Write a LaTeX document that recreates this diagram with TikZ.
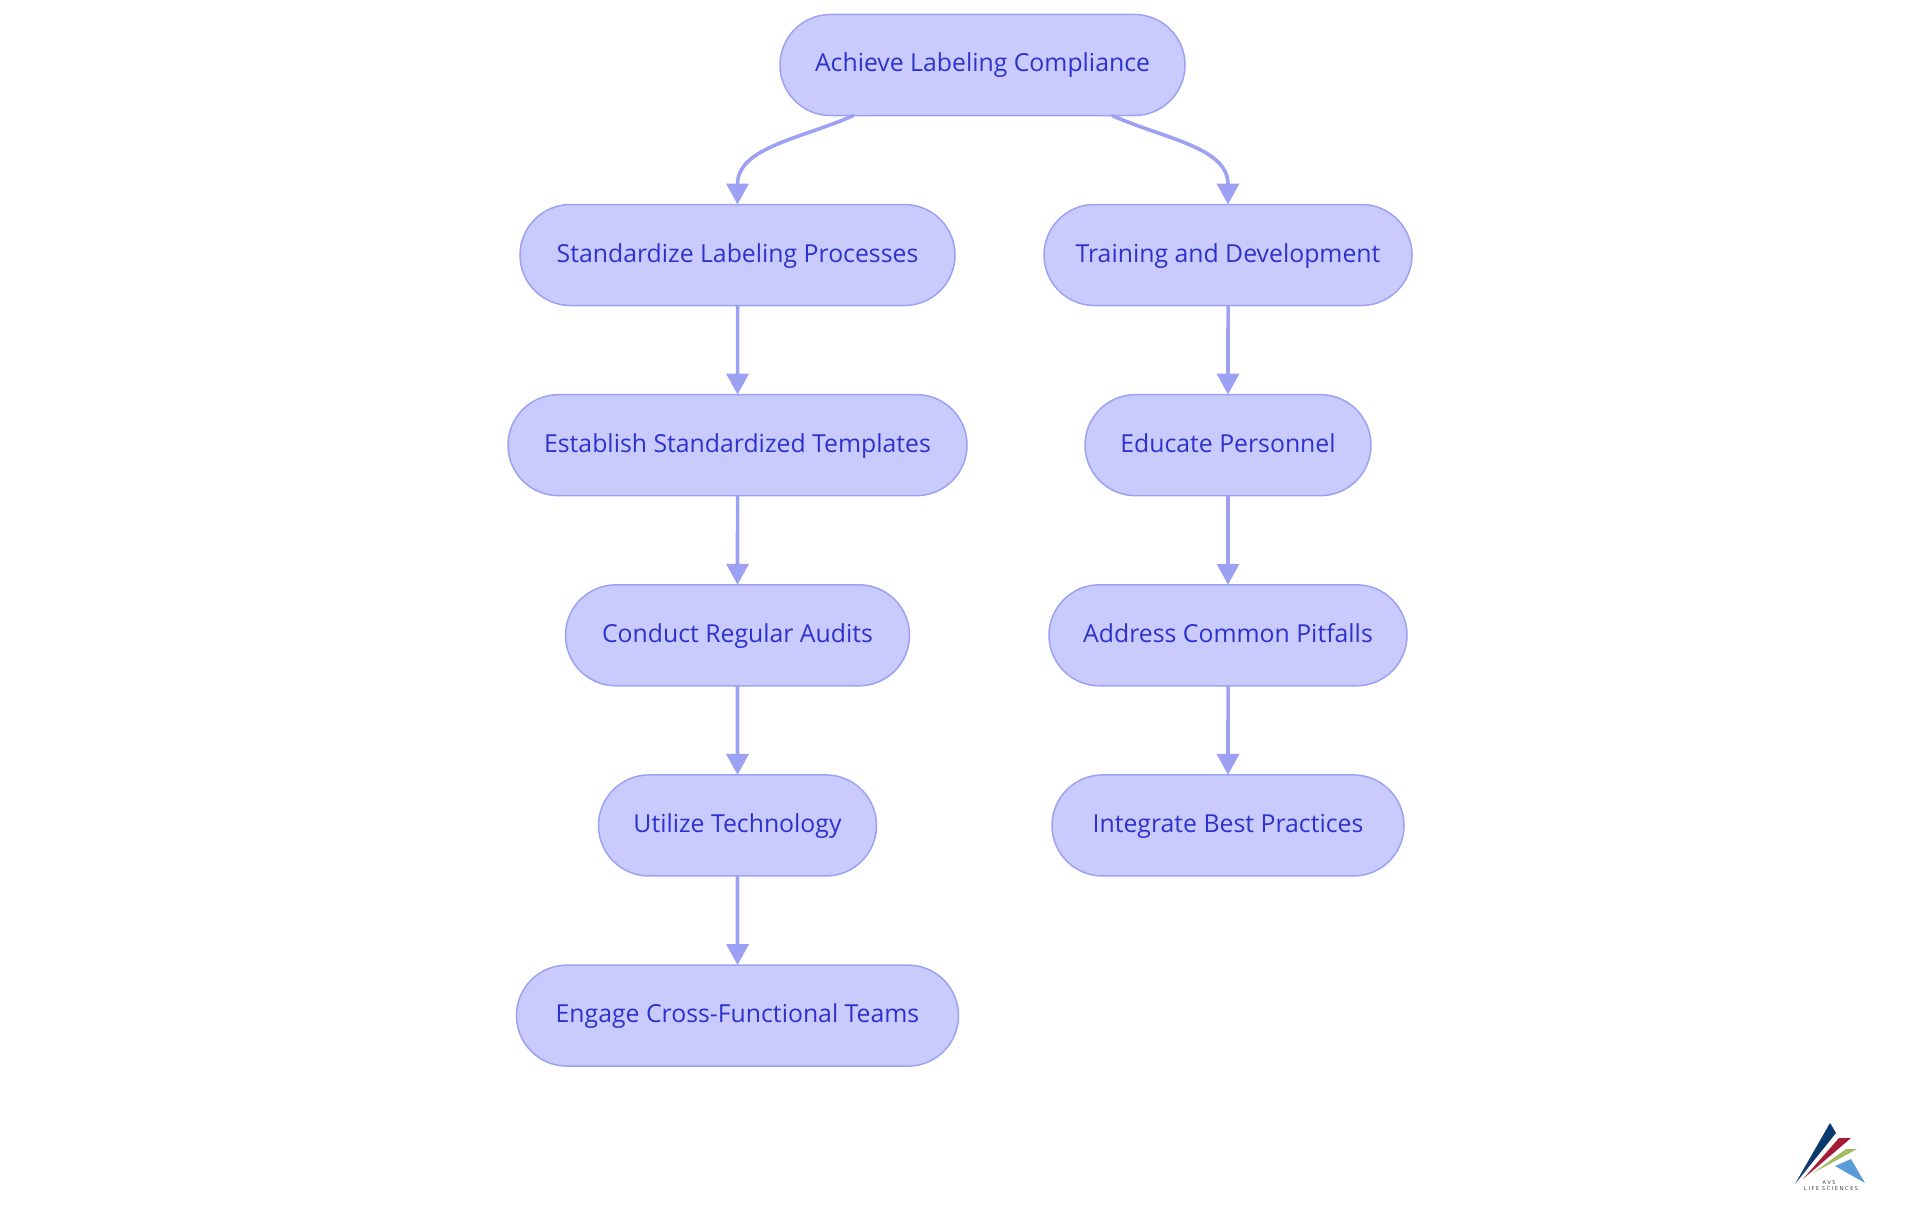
\documentclass[tikz,border=0pt]{standalone}
\usepackage{fontspec}
\setmainfont{Open Sans}
\usetikzlibrary{shapes.misc,arrows.meta,positioning}
\definecolor{stepfill}{HTML}{C9CBFE}
\definecolor{stepline}{HTML}{9DA1F3}
\definecolor{steptext}{HTML}{2E32CC}
\definecolor{logonavy}{HTML}{0B3B6E}
\definecolor{logored}{HTML}{A51C36}
\definecolor{logogreen}{HTML}{A4BB5F}
\definecolor{logoblue}{HTML}{5B9BD8}
\tikzset{
  stepbox/.style={rounded rectangle,draw=stepline,fill=stepfill,line width=1.5pt,text=steptext,
    minimum height=101pt,inner sep=0pt,outer sep=0pt,text height=18pt,text depth=4pt,
    font=\fontsize{24.8}{28}\selectfont},
  flowline/.style={draw=stepline,line width=3.6pt,-{Triangle[length=21pt,width=22pt]}},
  logotext/.style={inner sep=0pt,text=black!85,font=\fontsize{5.4}{6}\selectfont}
}
\begin{document}
\begin{tikzpicture}[x=1pt,y=1pt,on grid,node distance=190.15pt]
\useasboundingbox (0,0) rectangle (1920,-1215);
\node[stepbox,minimum width=405pt] (achieve) at (982.5,-65) {Achieve Labeling Compliance};
\node[stepbox,minimum width=435pt] (standardize) at (737.5,-255) {Standardize Labeling Processes};
\node[stepbox,minimum width=459pt,below=of standardize] (establish) {Establish Standardized Templates};
\node[stepbox,minimum width=344pt,below=of establish] (audits) {Conduct Regular Audits};
\node[stepbox,minimum width=278pt,below=of audits] (technology) {Utilize Technology};
\node[stepbox,minimum width=442pt,below=of technology] (teams) {Engage Cross-Functional Teams};
\node[stepbox,minimum width=368pt] (training) at (1228,-255) {Training and Development};
\node[stepbox,minimum width=286pt,below=of training] (educate) {Educate Personnel};
\node[stepbox,minimum width=358pt,below=of educate] (pitfalls) {Address Common Pitfalls};
\node[stepbox,minimum width=352pt,below=of pitfalls] (practices) {Integrate Best Practices};
\coordinate[left=129pt of achieve.south] (achieveleft);
\coordinate[right=129.5pt of achieve.south] (achieveright);
\draw[flowline] (achieveleft) to[out=204,in=90] (standardize.north);
\draw[flowline] (achieveright) to[out=-24,in=90] (training.north);
\draw[flowline] (standardize) -- (establish);
\draw[flowline] (establish) -- (audits);
\draw[flowline] (audits) -- (technology);
\draw[flowline] (technology) -- (teams);
\draw[flowline] (training) -- (educate);
\draw[flowline] (educate) -- (pitfalls);
\draw[flowline] (pitfalls) -- (practices);
% logo
\fill[logonavy] (1830,-1123) -- (1836,-1133) -- (1795,-1184) -- cycle;
\fill[logored] (1839,-1138) -- (1851,-1138) -- (1803,-1179) -- cycle;
\fill[logogreen] (1846,-1149) -- (1857,-1149) -- (1813,-1173) -- cycle;
\fill[logoblue] (1851,-1159) -- (1835,-1166) -- (1865,-1183) -- cycle;
\node[logotext] (logoname) at (1829,-1182.5) {\addfontfeatures{LetterSpace=30}AVS};
\node[logotext] (logosub) at (1831,-1189) {\addfontfeatures{LetterSpace=30}LIFE SCIENCES};
\end{tikzpicture}
\end{document}
